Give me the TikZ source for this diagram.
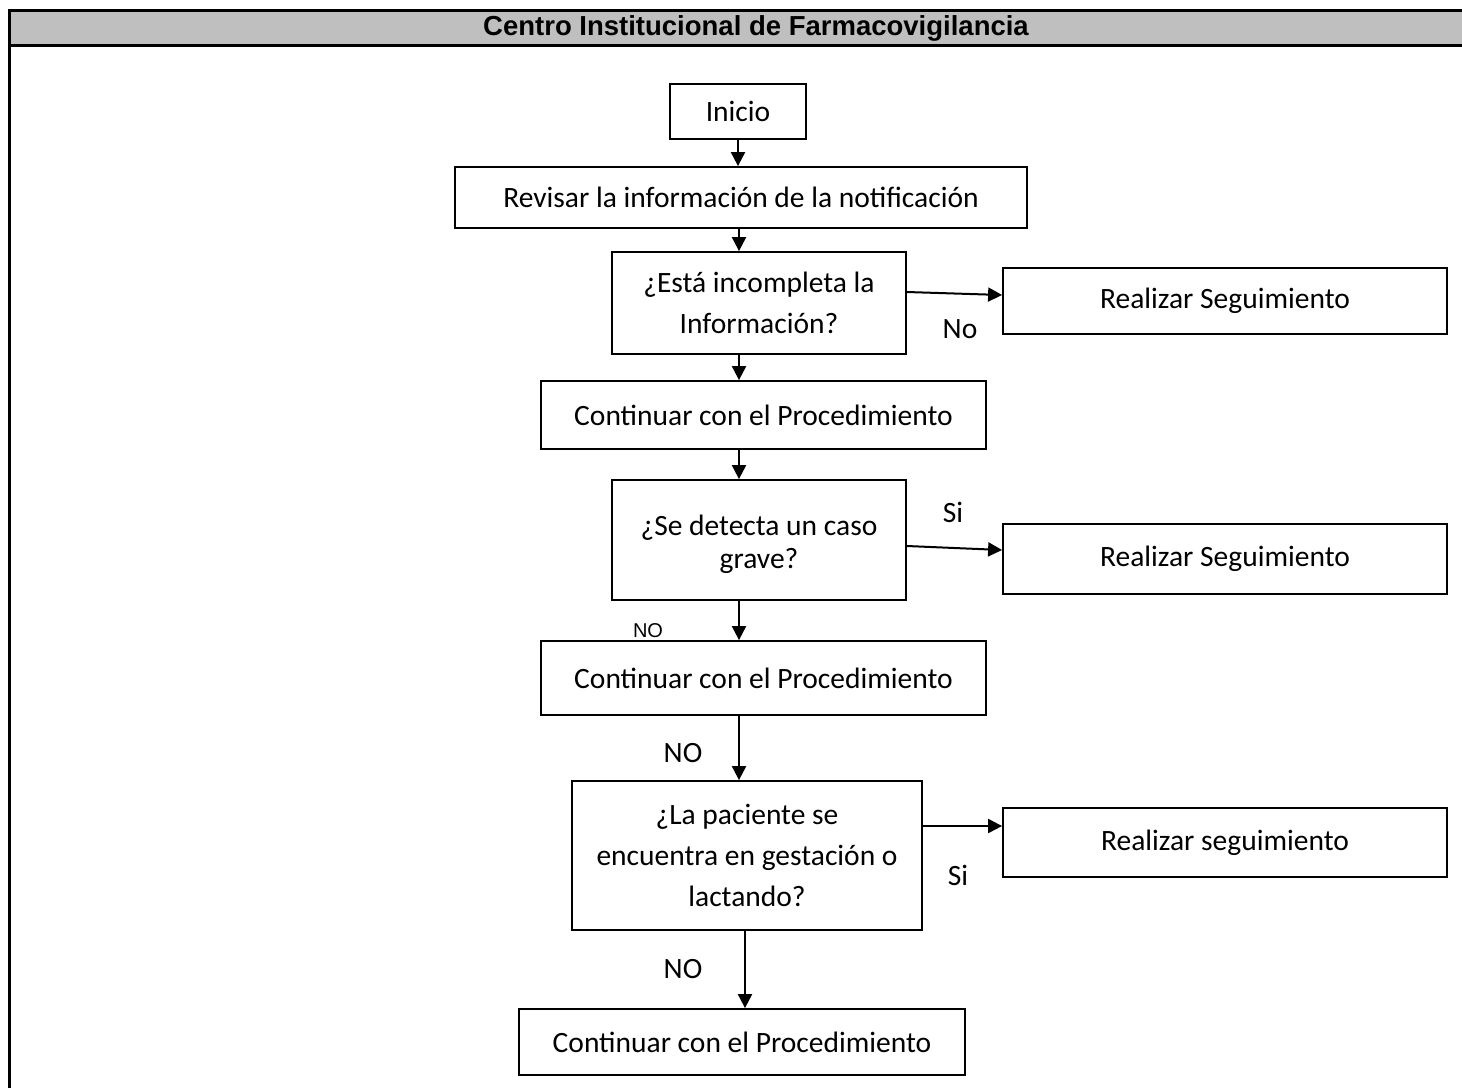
\documentclass[tikz,border=0pt]{standalone}
\usepackage{fontspec}
\setmainfont{Carlito}
\newfontfamily\headfont{Liberation Sans}
\usetikzlibrary{arrows.meta}
\begin{document}
\begin{tikzpicture}[x=1pt,y=-1pt,
  box/.style={draw,line width=1.8pt,align=center,inner sep=0pt,
    font=\fontsize{29.5}{41}\selectfont},
  flow/.style={line width=2pt,-{Triangle[length=14pt,width=14pt]}},
  lbl/.style={font=\fontsize{29.5}{34}\selectfont,inner sep=0pt},
  slbl/.style={font=\headfont\fontsize{20}{24}\selectfont,inner sep=0pt}]
\useasboundingbox (0,0) rectangle (1462,1088);
% frame and title bar
\fill[gray!50] (9,10) rectangle (1462,45);
\draw[line width=3pt] (9,1088) -- (9,10) -- (1462,10);
\draw[line width=3pt] (9,45) -- (1462,45);
\node (title) at (756,28) {\headfont\bfseries\fontsize{27.5}{32}\selectfont Centro Institucional de Farmacovigilancia};
% main column
\node[box,minimum width=136pt,minimum height=55pt] (inicio) at (738,111.5) {Inicio};
\node[box,minimum width=572pt,minimum height=61pt] (revisar) at (741,197.5) {Revisar la información de la notificación};
\node[box,minimum width=294pt,minimum height=102pt] (q1) at (759,303) {¿Está incompleta la\\Información?};
\node[box,minimum width=445pt,minimum height=68pt] (c1) at (763.5,415) {Continuar con el Procedimiento};
\node[box,minimum width=294pt,minimum height=120pt] (q2) at (759,540) {};
\node[align=center,inner sep=0pt,font=\fontsize{29.5}{33}\selectfont] (q2text) at (759,544) {¿Se detecta un caso\\grave?};
\node[box,minimum width=445pt,minimum height=74pt] (c2) at (763.5,678) {Continuar con el Procedimiento};
\node[box,minimum width=350pt,minimum height=149pt] (q3) at (747,855.5) {¿La paciente se\\encuentra en gestación o\\lactando?};
\node[box,minimum width=446pt,minimum height=66pt] (c3) at (742,1042) {Continuar con el Procedimiento};
% side column
\node[box,minimum width=444pt,minimum height=66pt] (r1) at (1225,301) {Realizar Seguimiento};
\node[box,minimum width=444pt,minimum height=70pt] (r2) at (1225,559) {Realizar Seguimiento};
\node[box,minimum width=444pt,minimum height=69pt] (r3) at (1225,842.5) {Realizar seguimiento};
% connectors
\draw[flow] (inicio.south -| 738,0) -- (revisar.north -| 738,0);
\draw[flow] (revisar.south -| 739,0) -- (q1.north -| 739,0);
\draw[flow] (q1.south -| 739,0) -- (c1.north -| 739,0);
\draw[flow] (c1.south -| 739,0) -- (q2.north -| 739,0);
\draw[flow] (q2.south -| 739,0) -- (c2.north -| 739,0);
\draw[flow] (c2.south -| 739,0) -- (q3.north -| 739,0);
\draw[flow] (q3.south -| 745,0) -- (c3.north -| 745,0);
\draw[flow] (q1.east |- 0,292) -- (r1.west |- 0,295);
\draw[flow] (q2.east |- 0,546) -- (r2.west |- 0,550);
\draw[flow] (q3.east |- 0,826) -- (r3.west |- 0,826);
% branch labels
\node[lbl] (l1) at (960,329) {No};
\node[lbl] (l2) at (953,512) {Si};
\node[slbl] (l3) at (648,631) {NO};
\node[lbl] (l4) at (683,753) {NO};
\node[lbl] (l5) at (958,875) {Si};
\node[lbl] (l6) at (683,969) {NO};
\end{tikzpicture}
\end{document}
